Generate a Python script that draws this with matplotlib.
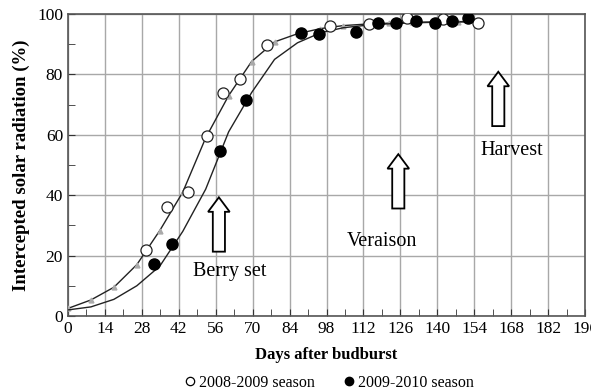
import matplotlib
matplotlib.use("Agg")
import matplotlib.pyplot as plt
from matplotlib.lines import Line2D
from matplotlib.patches import FancyArrow

plt.rcParams['font.family'] = ['Liberation Serif', 'DejaVu Serif']

# Observed data
days_0809 = [29.6, 37.5, 45.5, 52.7, 58.8, 65.2, 75.4, 99.3, 114.0, 128.5, 142.0, 155.4]
rad_0809 = [22.0, 36.0, 41.0, 59.5, 74.0, 78.5, 89.7, 96.1, 96.7, 98.8, 98.3, 97.1]
days_0910 = [32.7, 39.3, 57.5, 67.4, 88.2, 95.3, 109.2, 117.4, 124.3, 131.9, 139.1, 145.4, 151.5]
rad_0910 = [17.1, 23.7, 54.6, 71.5, 93.9, 93.3, 94.1, 96.9, 96.9, 97.7, 96.9, 97.7, 98.6]

# Fitted curves
fit_days = [0, 8.7, 17.4, 26.1, 34.8, 43.5, 52.2, 60.9, 69.6, 78.3, 87.0, 95.7, 104.4,
            113.1, 121.8, 130.5, 139.2, 147.9, 155.0]
fit_0809 = [2.5, 5.3, 9.5, 17.0, 28.3, 41.0, 59.0, 73.0, 84.3, 90.8, 93.5, 95.2, 96.2,
            96.7, 97.0, 97.3, 97.4, 97.5, 97.6]
fit_0910 = [2.0, 3.0, 5.5, 10.0, 16.5, 28.0, 42.0, 61.0, 74.0, 85.0, 90.5, 93.8, 95.5,
            96.3, 96.8, 97.1, 97.3, 97.4, 97.5]

# Phenological stages
stages = ["Berry set", "Veraison", "Harvest"]
stage_day = [57.2, 125.2, 163.1]
arrow_base = [21.3, 35.6, 62.9]
label_pos = [(61.4, 14.7), (118.9, 24.6), (168.2, 54.7)]

xticks = list(range(0, 197, 14))
yticks = list(range(0, 101, 20))

fig = plt.figure(figsize=(5.91, 3.92), dpi=100)
ax = fig.add_axes([0.115, 0.194, 0.875, 0.770])

ax.set_xlim(0, 196)
ax.set_ylim(0, 100)
ax.set_xticks(xticks)
ax.set_xticks(list(range(7, 196, 14)), minor=True)
ax.set_yticks(yticks)
ax.set_yticks(list(range(10, 100, 20)), minor=True)
ax.grid(True, which='major', color='#a8a8a8', lw=1.0)
ax.set_axisbelow(True)
ax.tick_params(which='both', direction='in', colors='#333333', labelcolor='black',
               labelsize=12.5)
ax.tick_params(which='major', length=5)
ax.tick_params(which='minor', length=5)
for s in ax.spines.values():
    s.set_color('#555555')
    s.set_linewidth(1.2)

ax.plot(fit_days, fit_0809, color='#222222', lw=1.0, marker='^', ms=3.5,
        mfc='#aaaaaa', mec='#aaaaaa', zorder=3)
ax.plot(fit_days, fit_0910, color='#222222', lw=1.0, zorder=3)
ax.plot(days_0809, rad_0809, ls='none', marker='o', ms=8, mfc='white', mec='#222222',
        mew=0.9, zorder=4)
ax.plot(days_0910, rad_0910, ls='none', marker='o', ms=8, mfc='black', mec='black', zorder=5)

for name, x, y0, (tx, ty) in zip(stages, stage_day, arrow_base, label_pos):
    arr = FancyArrow(x, y0, 0, 18, width=4.6, head_width=8.2, head_length=4.8,
                     length_includes_head=True, fc='white', ec='black', lw=1.3, zorder=6)
    ax.add_patch(arr)
    ax.text(tx, ty, name, ha='center', va='center', fontsize=14.5, zorder=7)

ax.set_xlabel("Days after budburst", fontsize=12, fontweight='bold', labelpad=7)
ax.set_ylabel("Intercepted solar radiation (%)", fontsize=13.5, fontweight='bold', labelpad=5)

handles = [Line2D([], [], ls='none', marker='o', ms=6, mfc='white', mec='black', mew=0.9),
           Line2D([], [], ls='none', marker='o', ms=6, mfc='black', mec='black')]
fig.legend(handles, ["2008-2009 season", "2009-2010 season"], loc='center',
           bbox_to_anchor=(0.555, 0.024), ncol=2, frameon=False, fontsize=11.5,
           handletextpad=0.1, columnspacing=1.6, handlelength=1.0, borderaxespad=0,
           borderpad=0)

fig.savefig("out.png", dpi=100)
